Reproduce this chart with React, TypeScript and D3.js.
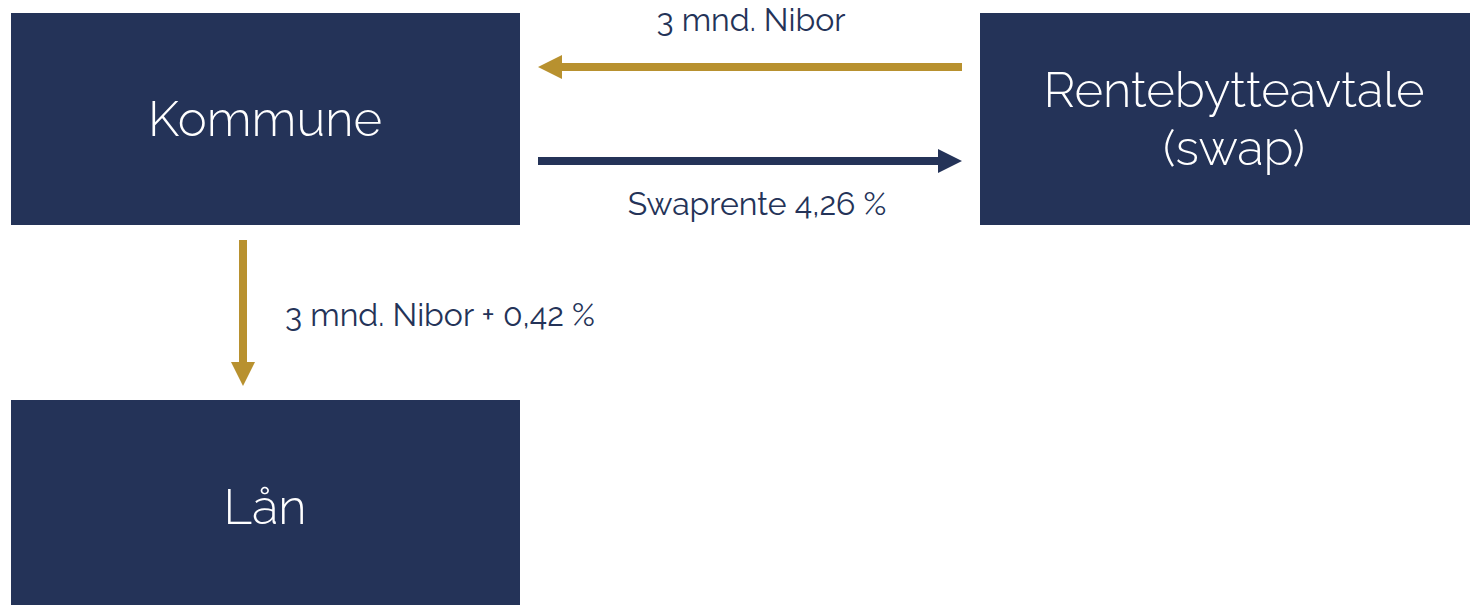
import React from "react";
import * as d3 from "d3";

const nodeNames = ["Kommune", "Rentebytteavtale (swap)", "Lån"];
const nodeLines = [["Kommune"], ["Rentebytteavtale", "(swap)"], ["Lån"]];
const flowLabels = ["3 mnd. Nibor", "Swaprente 4,26 %", "3 mnd. Nibor + 0,42 %"];
const flowKinds = ["gold", "navy", "gold"];

const W = 1470;
const H = 605;
const NAVY = "#243358";
const GOLD = "#b8912f";
const FONT = "Raleway, Lato, 'Open Sans', sans-serif";

// layout
const boxes = [
  { x: 11, y: 13, w: 509, h: 212, cx: 265, ty: 123 },
  { x: 980, y: 13, w: 500, h: 212, cx: 1234, ty: 94 },
  { x: 11, y: 400, w: 509, h: 215, cx: 265, ty: 511 },
];

const arrowGeom = [
  { x1: 962, y1: 67, x2: 538, y2: 67, lx: 751, ly: 31, anchor: "middle" },
  { x1: 538, y1: 161, x2: 962, y2: 161, lx: 757, ly: 215, anchor: "middle" },
  { x1: 243, y1: 240, x2: 243, y2: 386, lx: 285, ly: 326, anchor: "start" },
];

function arrowPath(x1: number, y1: number, x2: number, y2: number) {
  const head = 24;
  const half = 12;
  const sw = 4;
  const len = Math.hypot(x2 - x1, y2 - y1);
  const ux = (x2 - x1) / len;
  const uy = (y2 - y1) / len;
  const px = -uy;
  const py = ux;
  const bx = x2 - ux * head;
  const by = y2 - uy * head;
  const p = d3.path();
  p.moveTo(x1 + px * sw, y1 + py * sw);
  p.lineTo(bx + px * sw, by + py * sw);
  p.lineTo(bx + px * half, by + py * half);
  p.lineTo(x2, y2);
  p.lineTo(bx - px * half, by - py * half);
  p.lineTo(bx - px * sw, by - py * sw);
  p.lineTo(x1 - px * sw, y1 - py * sw);
  p.closePath();
  return p.toString();
}

export default function App() {
  return (
    <svg width={W} height={H} style={{ position: "absolute", left: 0, top: 0 }}>
      <rect width={W} height={H} fill="#ffffff" />
      {nodeNames.map((n, i) => {
        const b = boxes[i];
        const lines = nodeLines[i];
        return (
          <g key={n}>
            <rect x={b.x} y={b.y} width={b.w} height={b.h} fill={NAVY} />
            {lines.map((l, j) => (
              <text
                key={l}
                x={b.cx}
                y={b.ty + j * 58}
                textAnchor="middle"
                dominantBaseline="middle"
                fill="#ffffff"
                fontFamily={FONT}
                fontWeight={300}
                fontSize={49}
              >
                {l}
              </text>
            ))}
          </g>
        );
      })}
      {flowLabels.map((l, i) => {
        const a = arrowGeom[i];
        return (
          <g key={l}>
            <path d={arrowPath(a.x1, a.y1, a.x2, a.y2)} fill={flowKinds[i] === "gold" ? GOLD : NAVY} />
            <text
              x={a.lx}
              y={a.ly}
              textAnchor={a.anchor as any}
              fill={NAVY}
              fontFamily={FONT}
              fontWeight={400}
              fontSize={32}
            >
              {l}
            </text>
          </g>
        );
      })}
    </svg>
  );
}
